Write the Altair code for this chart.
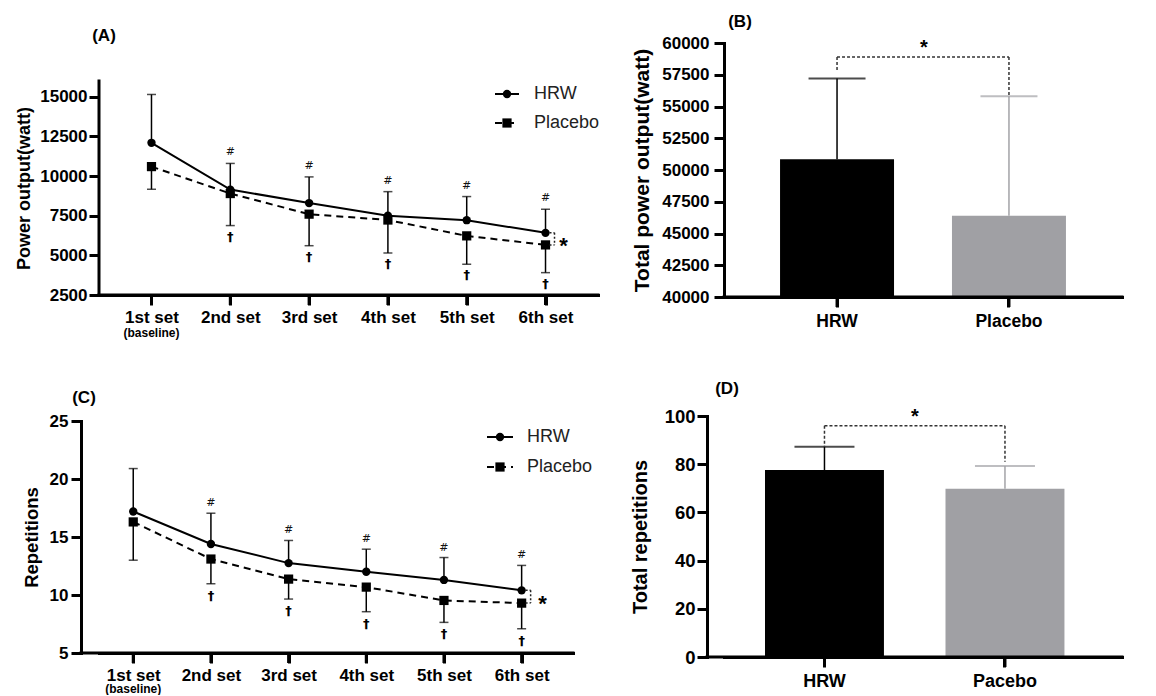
import altair as alt
import pandas as pd

FONT = "Liberation Sans"

# ---------------- data ----------------
sets = ["1st set", "2nd set", "3rd set", "4th set", "5th set", "6th set"]
series_names = ["HRW", "Placebo"]

hrw_power = [12100, 9150, 8300, 7500, 7220, 6420]
hrw_power_sd = [3050, 1650, 1650, 1520, 1490, 1490]
placebo_power = [10600, 8900, 7600, 7230, 6230, 5660]
placebo_power_sd = [1430, 2020, 1990, 2080, 1790, 1750]

hrw_reps = [17.2, 14.4, 12.75, 12.0, 11.3, 10.4]
hrw_reps_sd = [3.7, 2.65, 1.95, 1.95, 1.93, 2.15]
placebo_reps = [16.3, 13.1, 11.37, 10.68, 9.53, 9.3]
placebo_reps_sd = [3.3, 2.13, 1.72, 2.12, 1.89, 2.21]

hrw_marks = ["", "#", "#", "#", "#", "#"]
placebo_marks = ["", "\u2020", "\u2020", "\u2020", "\u2020", "\u2020"]

groups_power = ["HRW", "Placebo"]
total_power = [50850, 46400]
total_power_sd = [6350, 9400]
power_bracket_top = 58900
power_bracket_ends = [57750, 55800]

groups_reps = ["HRW", "Pacebo"]
total_reps = [77.6, 69.8]
total_reps_sd = [9.6, 9.5]
reps_bracket_top = 96
reps_bracket_ends = [87.2, 81.0]

power_ticks = [2500, 5000, 7500, 10000, 12500, 15000]
reps_ticks = [5, 10, 15, 20, 25]
total_power_ticks = [40000, 42500, 45000, 47500, 50000, 52500, 55000, 57500, 60000]
total_reps_ticks = [0, 20, 40, 60, 80, 100]

bar_colors = ["#000000", "#A0A0A4"]
err_colors = ["#000000", "#A3A3A7"]


def one():
    return pd.DataFrame({"k": [0]})


def box_layer(x0, x1, y0, y1):
    # invisible layout frame (fixes the panel's bounds)
    return alt.Chart(one()).mark_rule(opacity=0).encode(
        x=alt.value(x0), x2=alt.value(x1), y=alt.value(y0), y2=alt.value(y1))


def text_layer(txt, x, y, size, weight="bold", align="center", color="black"):
    return alt.Chart(one()).mark_text(
        font=FONT, fontSize=size, fontWeight=weight, align=align,
        baseline="middle", color=color).encode(
        x=alt.value(x), y=alt.value(y), text=alt.value(txt))


def x_axis_line(yoff, width, height):
    # x-axis line running from the (displaced) y-axis to the right end
    return alt.Chart(one()).mark_rule(color="black", strokeWidth=3).encode(
        x=alt.value(-yoff - 1.5), x2=alt.value(width + 1.5),
        y=alt.value(height))


def x_axis_ticks(df, xenc, height):
    return alt.Chart(df).mark_rule(color="black", strokeWidth=3).encode(
        x=xenc, y=alt.value(height), y2=alt.value(height + 10))


def line_panel(hrw, hrw_sd, plc, plc_sd, ydomain, yticks, ytitle, title_size,
               title_pad, label_pad, width, axis_height, extra_top, padding,
               align, yoff, panel_label, label_xy, box, leg_x, leg_y, text_x,
               hash_dy, dagger_dy, star_dx, star_dy, star_size, baseline_dy):
    height = axis_height + extra_top
    per_px = (ydomain[1] - ydomain[0]) / axis_height
    scale_top = ydomain[1] + extra_top * per_px
    df = pd.DataFrame({
        "set": sets,
        "hrw": hrw,
        "hrw_hi": [v + s for v, s in zip(hrw, hrw_sd)],
        "plc": plc,
        "plc_lo": [v - s for v, s in zip(plc, plc_sd)],
        "hm": hrw_marks,
        "pm": placebo_marks,
    })
    xenc = alt.X("set:N",
                 scale=alt.Scale(type="point", domain=sets, padding=padding,
                                 align=align),
                 axis=alt.Axis(title=None, labelAngle=0, labelFontSize=17,
                               labelPadding=4))
    yscale = alt.Scale(domain=[ydomain[0], scale_top], nice=False, zero=False)
    axis_kw = dict(values=yticks, tickCount=len(yticks), title=ytitle,
                   format="d", titleFontSize=title_size,
                   titlePadding=title_pad, labelPadding=label_pad,
                   offset=yoff, labelOverlap=False)
    if extra_top:
        axis_kw["domain"] = False
        axis_kw["titleY"] = extra_top + axis_height / 2
    yaxis = alt.Axis(**axis_kw)
    base = alt.Chart(df)
    layers = [box_layer(*box)]
    layers.append(base.mark_line(color="black", strokeWidth=2).encode(
        x=xenc, y=alt.Y("hrw:Q", scale=yscale, axis=yaxis)))
    if extra_top:
        dom = pd.DataFrame({"lo": [ydomain[0]], "hi": [ydomain[1]]})
        layers.append(alt.Chart(dom).mark_rule(
            color="black", strokeWidth=3, strokeCap="square").encode(
            x=alt.value(0), y=alt.Y("lo:Q"), y2="hi:Q"))
    layers.append(x_axis_line(yoff, width, height))
    layers.append(x_axis_ticks(df, xenc, height))
    layers.append(base.mark_line(color="black", strokeWidth=2,
                                 strokeDash=[7, 5]).encode(
        x=xenc, y=alt.Y("plc:Q")))
    # error bars
    layers.append(base.mark_rule(color="black", strokeWidth=1.5).encode(
        x=xenc, y=alt.Y("hrw:Q"), y2="hrw_hi:Q"))
    layers.append(base.mark_tick(color="black", size=9, thickness=1.5).encode(
        x=xenc, y=alt.Y("hrw_hi:Q")))
    layers.append(base.mark_rule(color="black", strokeWidth=1.5).encode(
        x=xenc, y=alt.Y("plc:Q"), y2="plc_lo:Q"))
    layers.append(base.mark_tick(color="black", size=9, thickness=1.5).encode(
        x=xenc, y=alt.Y("plc_lo:Q")))
    # markers
    layers.append(base.mark_point(filled=True, shape="circle", size=70,
                                  color="black", opacity=1).encode(
        x=xenc, y=alt.Y("hrw:Q")))
    layers.append(base.mark_point(filled=True, shape="square", size=85,
                                  color="black", opacity=1).encode(
        x=xenc, y=alt.Y("plc:Q")))
    # significance symbols
    layers.append(base.mark_text(font="DejaVu Sans", fontSize=11,
                                 color="#111", baseline="middle",
                                 dy=hash_dy).encode(
        x=xenc, y=alt.Y("hrw_hi:Q"), text="hm:N"))
    layers.append(base.mark_text(font="DejaVu Sans", fontSize=13,
                                 fontWeight="bold", color="#000",
                                 baseline="middle", dy=dagger_dy).encode(
        x=xenc, y=alt.Y("plc_lo:Q"), text="pm:N"))
    # (baseline) sub-label
    bl = pd.DataFrame({"set": [sets[0]], "t": ["(baseline)"]})
    layers.append(alt.Chart(bl).mark_text(
        font=FONT, fontSize=12, fontWeight="bold", baseline="middle").encode(
        x=xenc, y=alt.value(height + baseline_dy), text="t:N"))
    # bracket between last points
    br = pd.DataFrame({"set": [sets[-1]], "top": [hrw[-1]], "bot": [plc[-1]],
                       "mid": [(hrw[-1] + plc[-1]) / 2], "s": ["*"]})
    bc = alt.Chart(br)
    layers.append(bc.mark_rule(xOffset=9, strokeDash=[2, 2], strokeWidth=1.5,
                               color="#222").encode(
        x=xenc, y=alt.Y("top:Q"), y2="bot:Q"))
    layers.append(bc.mark_rule(xOffset=4, x2Offset=9, strokeDash=[2, 2],
                               strokeWidth=1.5, color="#222").encode(
        x=xenc, x2="set:N", y=alt.Y("top:Q")))
    layers.append(bc.mark_rule(xOffset=4, x2Offset=9, strokeDash=[2, 2],
                               strokeWidth=1.5, color="#222").encode(
        x=xenc, x2="set:N", y=alt.Y("bot:Q")))
    layers.append(bc.mark_text(font=FONT, fontSize=star_size, fontWeight="bold",
                               baseline="alphabetic", dx=star_dx,
                               dy=star_dy).encode(
        x=xenc, y=alt.Y("mid:Q"), text="s:N"))
    # legend
    lx0, lx1 = leg_x
    cx = (lx0 + lx1) / 2
    ly0, ly1 = leg_y
    layers.append(alt.Chart(one()).mark_rule(color="black", strokeWidth=2).encode(
        x=alt.value(lx0), x2=alt.value(lx1), y=alt.value(ly0)))
    layers.append(alt.Chart(one()).mark_point(
        filled=True, shape="circle", size=70, color="black", opacity=1).encode(
        x=alt.value(cx), y=alt.value(ly0)))
    layers.append(alt.Chart(one()).mark_rule(
        color="black", strokeWidth=2, strokeDash=[7, 5]).encode(
        x=alt.value(lx0), x2=alt.value(lx1), y=alt.value(ly1)))
    layers.append(alt.Chart(one()).mark_point(
        filled=True, shape="square", size=85, color="black", opacity=1).encode(
        x=alt.value(cx), y=alt.value(ly1)))
    layers.append(text_layer(series_names[0], text_x, ly0, 18, "normal",
                             "left", "#222"))
    layers.append(text_layer(series_names[1], text_x, ly1, 18, "normal",
                             "left", "#222"))
    layers.append(text_layer(panel_label, label_xy[0], label_xy[1], 17))
    return alt.layer(*layers).properties(width=width, height=height)


def bar_panel(groups, vals, sds, ydomain, yticks, ytitle, title_size,
              title_pad, label_pad, ylabel_size, xlabel_size, width, height,
              p_in, p_out, align, yoff, cap, b_top, b_ends, star_x, star_dy,
              panel_label, label_xy, box):
    df = pd.DataFrame({
        "g": groups, "v": vals,
        "hi": [v + s for v, s in zip(vals, sds)],
        "base": [ydomain[0]] * len(groups),
        "c": bar_colors, "ec": err_colors,
    })
    xscale = alt.Scale(domain=groups, paddingInner=p_in, paddingOuter=p_out,
                       align=align)
    xenc = alt.X("g:N", scale=xscale,
                 axis=alt.Axis(title=None, labelAngle=0,
                               labelFontSize=xlabel_size, labelPadding=5))
    yscale = alt.Scale(domain=ydomain, nice=False, zero=False)
    yaxis = alt.Axis(values=yticks, tickCount=len(yticks), title=ytitle,
                     format="d", titleFontSize=title_size,
                     titlePadding=title_pad, labelPadding=label_pad,
                     labelFontSize=ylabel_size, offset=yoff,
                     labelOverlap=False)
    base = alt.Chart(df)
    layers = [box_layer(*box)]
    layers.append(base.mark_bar().encode(
        x=xenc, y=alt.Y("v:Q", scale=yscale, axis=yaxis),
        y2="base:Q", color=alt.Color("c:N", scale=None)))
    layers.append(x_axis_line(yoff, width, height))
    layers.append(x_axis_ticks(df, xenc, height))
    layers.append(base.mark_rule(strokeWidth=1.5).encode(
        x=xenc, y=alt.Y("v:Q"), y2="hi:Q",
        color=alt.Color("ec:N", scale=None)))
    layers.append(base.mark_tick(size=cap, thickness=2).encode(
        x=xenc, y=alt.Y("hi:Q"), color=alt.Color("ec:N", scale=None)))
    # bracket
    bh = pd.DataFrame({"g1": [groups[0]], "g2": [groups[1]], "top": [b_top],
                       "s": ["*"], "ys": [ydomain[1]]})
    layers.append(alt.Chart(bh).mark_rule(
        strokeDash=[3, 2], strokeWidth=1.5, color="#333").encode(
        x=alt.X("g1:N", scale=xscale), x2="g2:N", y=alt.Y("top:Q")))
    bv = pd.DataFrame({"g": groups, "top": [b_top, b_top], "end": b_ends})
    layers.append(alt.Chart(bv).mark_rule(
        strokeDash=[3, 2], strokeWidth=1.5, color="#333").encode(
        x=xenc, y=alt.Y("top:Q"), y2="end:Q"))
    layers.append(alt.Chart(bh).mark_text(
        font=FONT, fontSize=20, fontWeight="bold", baseline="alphabetic",
        dy=star_dy).encode(
        x=alt.value(star_x), y=alt.Y("ys:Q"), text="s:N"))
    layers.append(text_layer(panel_label, label_xy[0], label_xy[1], 17))
    return alt.layer(*layers).properties(width=width, height=height)


# Panel A  (plot origin (99, 43); axis drawn from y = 81 down to 295)
panel_a = line_panel(
    hrw_power, hrw_power_sd, placebo_power, placebo_power_sd,
    ydomain=[2500, 16000], yticks=power_ticks, ytitle="Power output(watt)",
    title_size=18, title_pad=6, label_pad=2, width=499, axis_height=214,
    extra_top=38, padding=0.666, align=0.5, yoff=0, panel_label="(A)",
    label_xy=(5, -7), box=(-91, 513, -35, 309), leg_x=(396, 420),
    leg_y=(51, 80), text_x=435, hash_dy=-11, dagger_dy=11, star_dx=18,
    star_dy=14, star_size=22, baseline_dy=38)

# Panel C  (plot origin (99, 421); y axis displaced to x = 81)
panel_c = line_panel(
    hrw_reps, hrw_reps_sd, placebo_reps, placebo_reps_sd,
    ydomain=[5, 25], yticks=reps_ticks, ytitle="Repetitions",
    title_size=18.5, title_pad=8, label_pad=3, width=474, axis_height=232,
    extra_top=0, padding=0.551, align=0.4, yoff=18, panel_label="(C)",
    label_xy=(-15, -23), box=(-91, 513, -69, 267), leg_x=(388, 414),
    leg_y=(16, 46), text_x=428, hash_dy=-10, dagger_dy=12, star_dx=21,
    star_dy=14, star_size=22, baseline_dy=36)

# Panel B  (plot origin (724, 43))
panel_b = bar_panel(
    groups_power, total_power, total_power_sd, ydomain=[40000, 60000],
    yticks=total_power_ticks, ytitle="Total power output(watt)",
    title_size=21, title_pad=9, label_pad=5, ylabel_size=17, xlabel_size=17.5,
    width=398, height=254, p_in=0.337, p_out=0.326, align=0.5, yoff=0,
    cap=57, b_top=power_bracket_top, b_ends=power_bracket_ends, star_x=200,
    star_dy=11, panel_label="(B)", label_xy=(16, -21),
    box=(-112, 416, -35, 309))

# Panel D  (plot origin (724, 416); y axis displaced to x = 707)
panel_d = bar_panel(
    groups_reps, total_reps, total_reps_sd, ydomain=[0, 100],
    yticks=total_reps_ticks, ytitle="Total repetitions",
    title_size=20, title_pad=14, label_pad=2, ylabel_size=18.5, xlabel_size=18,
    width=398, height=241, p_in=0.341, p_out=0.273, align=0.416, yoff=17,
    cap=60, b_top=reps_bracket_top, b_ends=reps_bracket_ends, star_x=191,
    star_dy=7, panel_label="(D)", label_xy=(3, -27),
    box=(-112, 416, -64, 272))

left = alt.vconcat(panel_a, panel_c, spacing=0)
right = alt.vconcat(panel_b, panel_d, spacing=0)

chart = alt.hconcat(left, right, spacing=0).properties(
    padding=0
).configure(
    font=FONT
).configure_view(
    stroke=None
).configure_axis(
    grid=False,
    domainColor="black", domainWidth=3, domainCap="square",
    tickColor="black", tickWidth=3, tickSize=10,
    labelColor="black", labelFont=FONT, labelFontWeight="bold",
    labelFontSize=17, labelOverlap=False,
    titleColor="black", titleFont=FONT, titleFontWeight="bold",
)

chart.save("out.html", embed_options={"renderer": "svg", "actions": False})
